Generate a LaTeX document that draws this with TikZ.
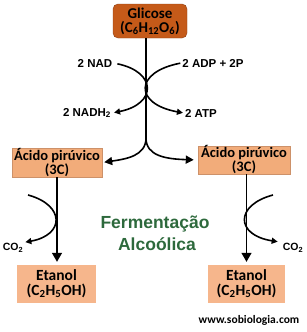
\documentclass[tikz,border=0pt]{standalone}
\usepackage{fontspec}
\setmainfont{Carlito}
\newfontfamily\labelfont{Liberation Sans}
\usetikzlibrary{arrows.meta}
\definecolor{glicfill}{RGB}{197,90,25}
\definecolor{glicdraw}{RGB}{140,62,20}
\definecolor{pirfill}{RGB}{242,172,122}
\definecolor{pirdraw}{RGB}{205,145,105}
\definecolor{etfill}{RGB}{246,182,140}
\definecolor{fermgreen}{RGB}{45,105,60}

\begin{document}
\begin{tikzpicture}[x=1pt,y=-1pt,>={Triangle[length=6pt,width=6pt]},
      box/.style={align=center,inner sep=0pt,font=\bfseries\fontsize{14.5}{14}\selectfont},
      glicbox/.style={box,draw=glicdraw,fill=glicfill,rounded corners=5pt,minimum width=74pt,minimum height=34pt,font=\bfseries\fontsize{15}{14}\selectfont},
      pirbox/.style={box,draw=pirdraw,fill=pirfill,minimum width=90pt,minimum height=29pt},
      etbox/.style={box,fill=etfill,minimum width=79pt,minimum height=38pt,font=\bfseries\fontsize{15.5}{15}\selectfont},
      lbl/.style={inner sep=1pt,font=\labelfont\bfseries\fontsize{11.5}{12}\selectfont},
      co/.style={inner sep=1pt,font=\labelfont\bfseries\fontsize{10.5}{11}\selectfont},
      ferm/.style={inner sep=0pt,text=fermgreen,font=\labelfont\bfseries\fontsize{17.5}{19}\selectfont},
      curve/.style={line width=1.6pt},
      stem/.style={line width=1.3pt,-{Triangle[length=9pt,width=10pt]}}]
      \useasboundingbox (0,0) rectangle (306,332);
      \node[glicbox] (glic) at (150,21) {Glicose\\(C\textsubscript{6}H\textsubscript{12}O\textsubscript{6})};
      \node[lbl] (nad) at (95,63) {2 NAD};
      \node[lbl] (adp) at (213,63) {2 ADP + 2P};
      \node[lbl] (nadh) at (87,113) {2 NADH\textsubscript{2}};
      \node[lbl] (atp) at (201,113) {2 ATP};
      \node[pirbox] (pirL) at (57,162.5) {Ácido pirúvico\\(3C)};
      \node[pirbox,minimum width=92pt,minimum height=28pt] (pirR) at (244,160) {Ácido pirúvico\\(3C)};
      \node[etbox] (etL) at (56.5,284) {Etanol\\(C\textsubscript{2}H\textsubscript{5}OH)};
      \node[etbox,minimum width=77pt] (etR) at (246.5,284) {Etanol\\(C\textsubscript{2}H\textsubscript{5}OH)};
      \node[co] (co2L) at (13,248) {CO\textsubscript{2}};
      \node[co] (co2R) at (293,248) {CO\textsubscript{2}};
      \node[ferm] (fer) at (155,224) {Fermentação};
      \node[ferm] (alc) at (157,244) {Alcoólica};
      \node[inner sep=0pt,font=\bfseries\fontsize{11.5}{12}\selectfont] (web) at (249,320) {www.sobiologia.com};
      \coordinate (split) at (146,138);
      \coordinate (inL) at (28,195);
      \coordinate (inR) at (273,195);
      \draw[line width=1.3pt] (glic.south -| split) -- (split);
      \draw[curve,->,shorten <=4pt,shorten >=2pt] (nad.east) .. controls (157,72) and (157,104) .. (nadh.east);
      \draw[curve,->,shorten <=1pt,shorten >=1pt] (adp.west) .. controls (134,72) and (134,104) .. (atp.west);
      \draw[curve,-{Triangle[length=8pt,width=8pt]},shorten >=2pt] (split) .. controls (146,156) and (126,159) .. (pirL.east);
      \draw[curve,-{Triangle[length=8pt,width=8pt]},shorten >=4pt] (split) .. controls (146,156) and (166,159) .. (pirR.west);
      \draw[stem,shorten >=3pt] (pirL.south) -- (pirL.south |- etL.north);
      \draw[stem,shorten >=3pt] (pirR.south -| etR) -- (etR.north);
      \draw[curve,->,shorten >=1pt] (inL) .. controls (65,205) and (65,235) .. (co2L.north east);
      \draw[curve,->,shorten >=4pt] (inR) .. controls (235,205) and (235,235) .. (co2R.north west);
    \end{tikzpicture}
\end{document}
